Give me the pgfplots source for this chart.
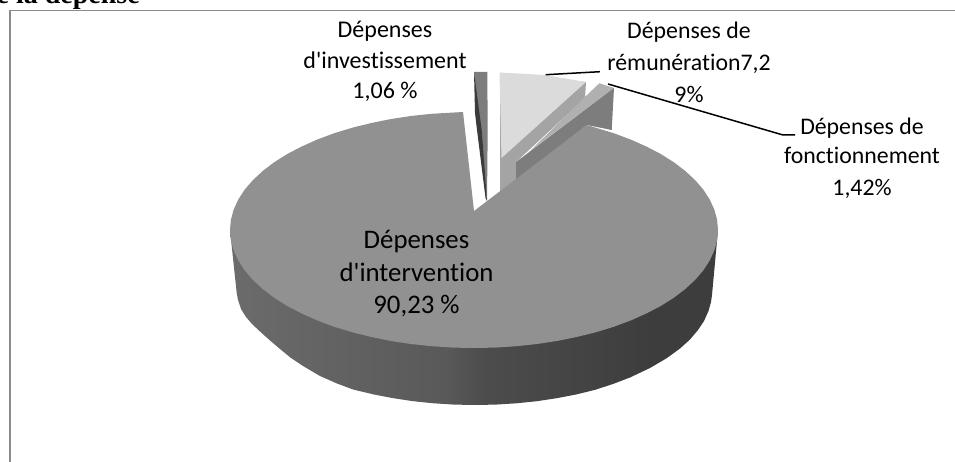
\documentclass[border=0pt]{standalone}
\usepackage{fontspec}
\setmainfont{Carlito}[Ligatures={TeXOff,NoCommon}]
\newfontfamily\headfont{Liberation Serif}
\usepackage{pgfplots}
\pgfplotsset{compat=1.18}

\definecolor{topmain}{gray}{.57}
\definecolor{topinv}{gray}{.49}
\definecolor{sideinv}{gray}{.23}
\definecolor{toprem}{gray}{.86}
\definecolor{siderem}{gray}{.645}
\definecolor{topfct}{gray}{.69}
\definecolor{sidefct}{gray}{.49}
\definecolor{frameline}{gray}{.54}
\definecolor{wa}{gray}{.50}
\definecolor{wb}{gray}{.46}
\definecolor{wc}{gray}{.35}
\definecolor{wd}{gray}{.30}
\definecolor{we}{gray}{.24}

% Rim of the large slice, darkening from left to right
\pgfdeclarehorizontalshading{rim}{100bp}{
  color(0bp)=(wa); color(13bp)=(wb); color(47bp)=(wc);
  color(51bp)=(wd); color(68bp)=(we); color(100bp)=(we)}

% Label line: x, baseline y, size, text
\newcommand{\lbl}[4]{\node[anchor=base,inner sep=0pt,font=\fontsize{#3}{30}\selectfont] at (axis cs:#1,#2) {#4};}

\begin{document}
\begin{tikzpicture}
\useasboundingbox (0,0) rectangle (955pt,462pt);
\clip (0,0) rectangle (955pt,462pt);
\begin{axis}[
  width=955pt, height=462pt, scale only axis,
  xmin=0, xmax=955, ymin=0, ymax=462, y dir=reverse,
  hide axis, clip=false,
  every axis plot/.append style={no markers, forget plot},
]
% Frame
\addplot[frameline, line width=1.5pt] coordinates {(955,10.5) (10,10.5) (10,462)};

% Rim of the large slice
\addplot[draw=none, shading=rim] coordinates {
 (230,230) (236.7,293) (238,300) (241,309) (246,317) (252,324) (260,331.5) (270,340.5) (280,349)
 (291,358) (303,366) (320,376) (337,383.5) (353,389.5) (374,394.5) (393.3,398.2) (413.1,401.2)
 (433.5,403.3) (454.2,404.6) (475,405) (495.8,404.6) (516.5,403.3) (536.9,401.2) (556.7,398.2)
 (576,394.5) (594.5,390) (613,384) (630,377.5) (650,368) (667,358) (680,348.5) (690,339.5)
 (698,330) (704,321) (708.5,311) (711,302) (712,295) (718,230)
} -- cycle;

% Investment slice
\addplot[draw=none, fill=topinv] coordinates {(474,72) (487.3,72) (487.7,130) (487,201)} -- cycle;
\addplot[draw=none, fill=sideinv] coordinates {(474,72) (481.7,130) (487,201) (485.5,198) (477,130) (475,113)} -- cycle;

% Remuneration slice
\addplot[draw=none, fill=siderem] coordinates {(500,73) (586,82) (585,98) (516,162) (516,180) (500,192)} -- cycle;
\addplot[draw=none, fill=toprem] coordinates {(499.5,72.5) (545,75) (586,82) (501.5,158)} -- cycle;

% Operating slice
\addplot[draw=none, fill=topfct] coordinates {(599.3,83.3) (614,88) (530,151) (587,95)} -- cycle;
\addplot[draw=none, fill=sidefct] coordinates {(516,162) (614,88) (611.7,130) (587,125) (516,180)} -- cycle;

% Top of the large slice
\addplot[draw=none, fill=topmain] coordinates {
 (474,211) (463,112) (431.6,113.8) (410.8,116) (390.5,119.1) (370.9,123.1) (352,127.8) (334,133.3)
 (317.2,139.6) (301.5,146.6) (287.1,154.1) (274.1,162.3) (262.7,171) (252.9,180.1) (244.7,189.6)
 (238.3,199.5) (233.7,209.5) (230.9,219.7) (230,230) (230.9,240.3) (233.7,250.5) (238.3,260.5)
 (244.7,270.4) (252.9,279.9) (262.7,289) (274.1,297.7) (287.1,305.9) (301.5,313.4) (317.2,320.4)
 (334,326.7) (352,332.2) (370.9,336.9) (390.5,340.9) (410.8,344) (431.6,346.2) (452.7,347.6)
 (474,348) (495.3,347.6) (516.4,346.2) (537.2,344) (557.5,340.9) (577.1,336.9) (596,332.2)
 (614,326.7) (630.8,320.4) (646.5,313.4) (660.9,305.9) (673.9,297.7) (685.3,289) (695.1,279.9)
 (703.3,270.4) (709.7,260.5) (714.3,250.5) (717.1,240.3) (718,230) (717.1,219.7) (714.3,209.5)
 (709.7,199.5) (703.3,189.6) (695.1,180.1) (685.3,171) (673.9,162.3) (660.9,154.1) (646.5,146.6)
 (630.8,139.6) (614,133.3) (596,127.8) (587,125)
} -- cycle;

% Leader lines
\addplot[black, line width=1.5pt] coordinates {(545.7,74.7) (600,71.7)};
\addplot[black, line width=1.5pt] coordinates {(608,84) (783,135) (795,135)};

% Heading, cut off by the top of the page
\node[anchor=base east, inner sep=0pt, font=\fontsize{28}{30}\headfont\bfseries\selectfont] at (axis cs:140,4) {de la dépense};

% Slice labels
\lbl{385}{38}{24}{Dépenses}
\lbl{385}{69}{24}{d'investissement}
\lbl{385}{99}{24}{1,06 \%}
\lbl{689}{39}{23.8}{Dépenses de}
\lbl{689}{71}{23.8}{rémunération7,2}
\lbl{689}{103}{23.8}{9\%}
\lbl{862}{135}{23.8}{Dépenses de}
\lbl{862}{164}{23.8}{fonctionnement}
\lbl{862}{196}{23.8}{1,42\%}
\lbl{416.5}{248}{26.8}{Dépenses}
\lbl{416.5}{281}{26.8}{d'intervention}
\lbl{416.5}{313}{26.8}{90,23 \%}
\end{axis}
\end{tikzpicture}
\end{document}
